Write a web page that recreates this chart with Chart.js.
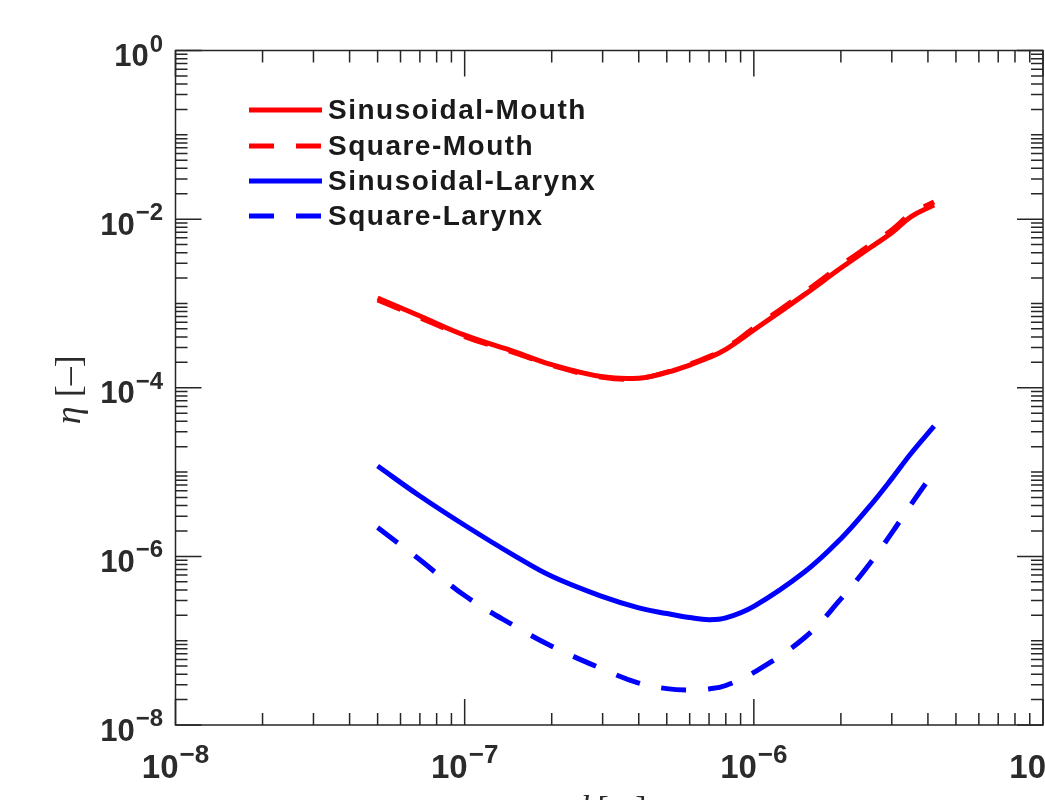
<!DOCTYPE html>
<html>
<head>
<meta charset="utf-8">
<script src="https://cdn.jsdelivr.net/npm/chart.js@4.4.1/dist/chart.umd.min.js"></script>
<style>
  html, body { margin: 0; padding: 0; background: #fff; }
  canvas { display: block; }
</style>
</head>
<body>
<canvas id="etaChart" width="1045" height="800"></canvas>
<script>
// diametro d [m]
const diametros = [5e-8, 7e-8, 1e-7, 1.5e-7, 2e-7, 3e-7, 4e-7, 5e-7, 6e-7, 7e-7, 8e-7, 1e-6, 1.5e-6, 2e-6, 2.5e-6, 3e-6, 3.5e-6, 4.2e-6];

// eta [-] para cada caso
const senoBoca = [1.16e-3, 7.1e-4, 4.2e-4, 2.65e-4, 1.88e-4, 1.35e-4, 1.3e-4, 1.52e-4, 1.86e-4, 2.28e-4, 2.86e-4, 4.84e-4, 1.28e-3, 2.63e-3, 4.48e-3, 6.9e-3, 1.07e-2, 1.47e-2];
const quadradoBoca = [1.1e-3, 6.8e-4, 4.05e-4, 2.58e-4, 1.84e-4, 1.33e-4, 1.29e-4, 1.53e-4, 1.9e-4, 2.34e-4, 2.94e-4, 5.1e-4, 1.36e-3, 2.82e-3, 4.82e-3, 7.45e-3, 1.16e-2, 1.6e-2];
const senoLaringe = [1.18e-5, 5.2e-6, 2.34e-6, 1.0e-6, 5.8e-7, 3.33e-7, 2.45e-7, 2.1e-7, 1.88e-7, 1.77e-7, 1.86e-7, 2.55e-7, 6.56e-7, 1.62e-6, 3.83e-6, 8.35e-6, 1.67e-5, 3.5e-5];
const quadradoLaringe = [2.2e-6, 9.1e-7, 3.43e-7, 1.47e-7, 8.6e-8, 4.6e-8, 3.14e-8, 2.7e-8, 2.6e-8, 2.68e-8, 2.94e-8, 4.2e-8, 1.09e-7, 3.13e-7, 7.97e-7, 1.9e-6, 4.15e-6, 1.01e-5];

const nomes = ['Sinusoidal-Mouth', 'Square-Mouth', 'Sinusoidal-Larynx', 'Square-Larynx'];

// expoentes das decadas nos eixos
const decadasX = [-8, -7, -6, -5];
const decadasY = [0, -1, -2, -3, -4, -5, -6, -7, -8];
const rotulosY = [0, -2, -4, -6, -8];

const corEixo = '#262626';

function pontos(valores) {
    return diametros.map((d, i) => ({ x: d, y: valores[i] }));
}

function serie(label, valores, cor, tracejado) {
    return {
        label: label,
        data: pontos(valores),
        borderColor: cor,
        backgroundColor: cor,
        borderWidth: 5,
        borderDash: tracejado ? [25, 22] : [],
        borderCapStyle: 'butt',
        pointRadius: 0,
        tension: 0.4,
        fill: false
    };
}

function sup(n) {
    return n === 0 ? '0' : '\u2212' + Math.abs(n);
}

// eixos estilo matlab: caixa, ticks para dentro, rotulos 10^n
const eixosMatlab = {
    id: 'eixosMatlab',
    afterDraw(chart) {
        const ctx = chart.ctx;
        const area = chart.chartArea;
        const sx = chart.scales.x;
        const sy = chart.scales.y;
        const maior = 26, menor = 12;

        ctx.save();
        ctx.strokeStyle = corEixo;
        ctx.lineWidth = 1.5;
        ctx.setLineDash([]);
        ctx.strokeRect(area.left, area.top, area.right - area.left, area.bottom - area.top);

        ctx.beginPath();
        decadasX.forEach(e => {
            const px = sx.getPixelForValue(Math.pow(10, e));
            ctx.moveTo(px, area.bottom); ctx.lineTo(px, area.bottom - maior);
            ctx.moveTo(px, area.top); ctx.lineTo(px, area.top + maior);
            if (e < -5) {
                for (let m = 2; m <= 9; m++) {
                    const p = sx.getPixelForValue(m * Math.pow(10, e));
                    ctx.moveTo(p, area.bottom); ctx.lineTo(p, area.bottom - menor);
                    ctx.moveTo(p, area.top); ctx.lineTo(p, area.top + menor);
                }
            }
        });
        decadasY.forEach(e => {
            const py = sy.getPixelForValue(Math.pow(10, e));
            const len = (e % 2 === 0) ? maior : menor;
            ctx.moveTo(area.left, py); ctx.lineTo(area.left + len, py);
            ctx.moveTo(area.right, py); ctx.lineTo(area.right - len, py);
            if (e > -8) {
                for (let m = 2; m <= 9; m++) {
                    const p = sy.getPixelForValue(m * Math.pow(10, e - 1));
                    ctx.moveTo(area.left, p); ctx.lineTo(area.left + menor, p);
                    ctx.moveTo(area.right, p); ctx.lineTo(area.right - menor, p);
                }
            }
        });
        ctx.stroke();

        // rotulos do eixo y
        ctx.fillStyle = '#2b2b2b';
        ctx.textBaseline = 'alphabetic';
        rotulosY.forEach(e => {
            const py = sy.getPixelForValue(Math.pow(10, e));
            ctx.font = 'bold 24px "Liberation Sans", Arial, sans-serif';
            const s = sup(e);
            const ws = ctx.measureText(s).width;
            ctx.textAlign = 'left';
            ctx.fillText(s, 163 - ws, py + 1);
            ctx.font = 'bold 31px "Liberation Sans", Arial, sans-serif';
            ctx.textAlign = 'right';
            ctx.fillText('10', 163 - ws - 1, py + 15.5);
        });

        // rotulos do eixo x
        decadasX.forEach(e => {
            const px = sx.getPixelForValue(Math.pow(10, e));
            ctx.font = 'bold 33px "Liberation Sans", Arial, sans-serif';
            const wb = ctx.measureText('10').width;
            ctx.font = 'bold 26px "Liberation Sans", Arial, sans-serif';
            const s = sup(e);
            const ws = ctx.measureText(s).width;
            const x0 = px - (wb + 1 + ws) / 2;
            ctx.textAlign = 'left';
            ctx.fillText(s, x0 + wb + 1, 763);
            ctx.font = 'bold 33px "Liberation Sans", Arial, sans-serif';
            ctx.fillText('10', x0, 778);
        });

        // titulos dos eixos
        const centroX = (area.left + area.right) / 2;
        ctx.font = 'italic 34px "Liberation Serif", serif';
        const wd = ctx.measureText('d').width;
        ctx.font = '34px "Liberation Serif", serif';
        const wm = ctx.measureText(' [m]').width;
        let xt = centroX - (wd + wm) / 2;
        ctx.textAlign = 'left';
        ctx.font = 'italic 34px "Liberation Serif", serif';
        ctx.fillText('d', xt, 819);
        ctx.font = '34px "Liberation Serif", serif';
        ctx.fillText(' [m]', xt + wd, 819);

        const centroY = (area.top + area.bottom) / 2 + 2;
        ctx.translate(80, centroY);
        ctx.rotate(-Math.PI / 2);
        ctx.font = 'italic 36px "Liberation Serif", serif';
        const we = ctx.measureText('\u03b7').width;
        ctx.font = '36px "Liberation Serif", serif';
        const wr = ctx.measureText(' [\u2013]').width;
        xt = -(we + wr) / 2;
        ctx.font = 'italic 36px "Liberation Serif", serif';
        ctx.fillText('\u03b7', xt, 0);
        ctx.font = '36px "Liberation Serif", serif';
        ctx.fillText(' [\u2013]', xt + we, 0);
        ctx.restore();
    }
};

// legenda desenhada dentro do grafico
const legendaInterna = {
    id: 'legendaInterna',
    afterDraw(chart) {
        const ctx = chart.ctx;
        const x0 = 249, x1 = 322, xt = 328;
        const linhas = [110, 146, 181, 216];
        ctx.save();
        chart.data.datasets.forEach((ds, i) => {
            const y = linhas[i];
            ctx.strokeStyle = ds.borderColor;
            ctx.lineWidth = ds.borderWidth;
            ctx.lineCap = 'butt';
            ctx.setLineDash(ds.borderDash);
            ctx.beginPath();
            ctx.moveTo(x0, y);
            ctx.lineTo(x1, y);
            ctx.stroke();
            ctx.setLineDash([]);
            ctx.fillStyle = '#1a1a1a';
            ctx.font = 'bold 28px "Liberation Sans", Arial, sans-serif';
            ctx.letterSpacing = '1.5px';
            ctx.textAlign = 'left';
            ctx.textBaseline = 'middle';
            ctx.fillText(ds.label, xt, y + 1);
        });
        ctx.restore();
    }
};

const ctx = document.getElementById('etaChart').getContext('2d');
new Chart(ctx, {
    type: 'line',
    data: {
        datasets: [
            serie(nomes[0], senoBoca, '#ff0000', false),
            serie(nomes[1], quadradoBoca, '#ff0000', true),
            serie(nomes[2], senoLaringe, '#0000ff', false),
            serie(nomes[3], quadradoLaringe, '#0000ff', true)
        ]
    },
    options: {
        responsive: false,
        animation: false,
        layout: { padding: { left: 175.5, top: 50.5, right: 2, bottom: 75 } },
        plugins: {
            legend: { display: false },
            tooltip: { enabled: false }
        },
        scales: {
            x: { type: 'logarithmic', min: 1e-8, max: 1e-5, display: false },
            y: { type: 'logarithmic', min: 1e-8, max: 1, display: false }
        }
    },
    plugins: [eixosMatlab, legendaInterna]
});
</script>
</body>
</html>
